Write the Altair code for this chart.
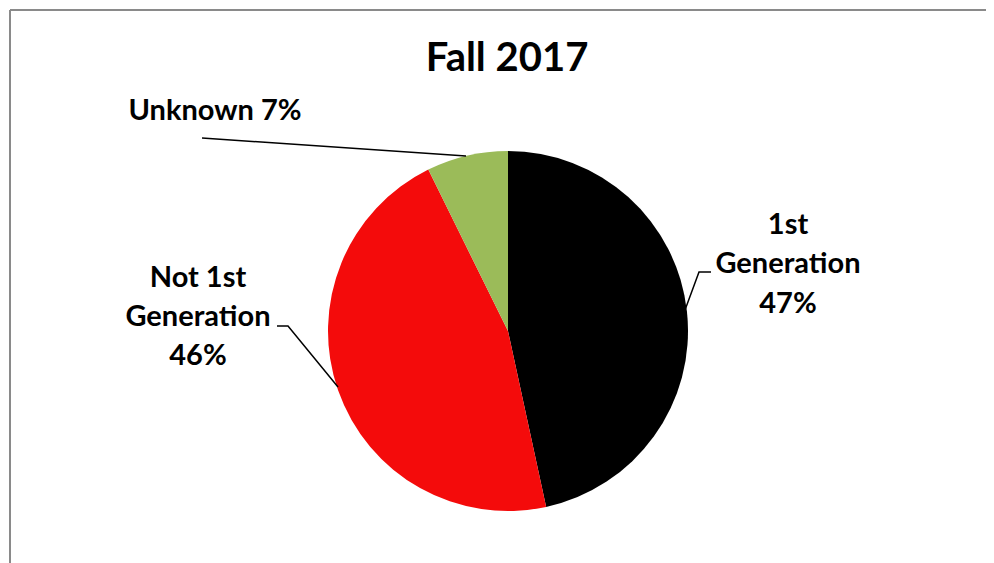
import altair as alt
import pandas as pd

# ---- data ----
categories = ["1st Generation", "Not 1st Generation", "Unknown"]
shares = [46.6, 46.1, 7.3]
colors = ["#000000", "#F40B0B", "#9BBB59"]
title_text = "Fall 2017"

# label lines (text) and their layout (page px coords)
label_lines = ["1st", "Generation", "47%", "Not 1st", "Generation", "46%", "Unknown 7%"]
label_x = [788, 788, 788, 198, 198, 198, 215]
label_y = [234, 273, 313, 287, 326, 365, 120]

# leader lines (page px coords)
leader_id = ["a", "a", "a", "b", "b", "b", "c", "c"]
leader_x = [711, 699, 685, 277, 288, 338, 202, 466]
leader_y = [272, 272, 310, 326, 326, 387, 138, 156]

W, H = 978, 555
xs = alt.Scale(domain=[8, 8 + W])
ys = alt.Scale(domain=[8, 8 + H], reverse=True)

pie_df = pd.DataFrame({"cat": categories, "share": shares, "idx": list(range(len(categories)))})
lab_df = pd.DataFrame({"t": label_lines, "x": label_x, "y": label_y})
lead_df = pd.DataFrame({"id": leader_id, "x": leader_x, "y": leader_y, "o": list(range(len(leader_x)))})
title_df = pd.DataFrame({"t": [title_text], "x": [507], "y": [71]})
border_df = pd.DataFrame({"x": [10], "y": [10], "x2": [1100], "y2": [700]})

pie = alt.Chart(pie_df).mark_arc(outerRadius=180).encode(
    theta=alt.Theta("share:Q", stack=True),
    order=alt.Order("idx:Q"),
    color=alt.Color("cat:N", scale=alt.Scale(domain=categories, range=colors), legend=None),
    x=alt.value(508 - 8),
    y=alt.value(331 - 8),
)

labels = alt.Chart(lab_df).mark_text(
    font="Lato", fontWeight="bold", fontSize=29, baseline="alphabetic", align="center", color="black"
).encode(
    x=alt.X("x:Q", scale=xs, axis=None),
    y=alt.Y("y:Q", scale=ys, axis=None),
    text="t:N",
)

title = alt.Chart(title_df).mark_text(
    font="Lato", fontWeight="bold", fontSize=40, baseline="alphabetic", align="center", color="black"
).encode(
    x=alt.X("x:Q", scale=xs, axis=None),
    y=alt.Y("y:Q", scale=ys, axis=None),
    text="t:N",
)

leaders = alt.Chart(lead_df).mark_line(color="black", strokeWidth=1.5).encode(
    x=alt.X("x:Q", scale=xs, axis=None),
    y=alt.Y("y:Q", scale=ys, axis=None),
    detail="id:N",
    order="o:Q",
)

border_left = alt.Chart(border_df).mark_rule(color="#8A8A8A", strokeWidth=2).encode(
    x=alt.X("x:Q", scale=xs, axis=None),
    y=alt.Y("y:Q", scale=ys, axis=None),
    y2="y2:Q",
)
border_top = alt.Chart(border_df).mark_rule(color="#8A8A8A", strokeWidth=2).encode(
    x=alt.X("x:Q", scale=xs, axis=None),
    x2="x2:Q",
    y=alt.Y("y:Q", scale=ys, axis=None),
)

chart = alt.layer(border_left, border_top, pie, leaders, labels, title).properties(
    width=W, height=H, autosize=alt.AutoSizeParams(type="none"), padding=0,
    background="white",
).configure_view(stroke=None, clip=False)

chart.save("out.html", embed_options={"renderer": "svg", "actions": False})
